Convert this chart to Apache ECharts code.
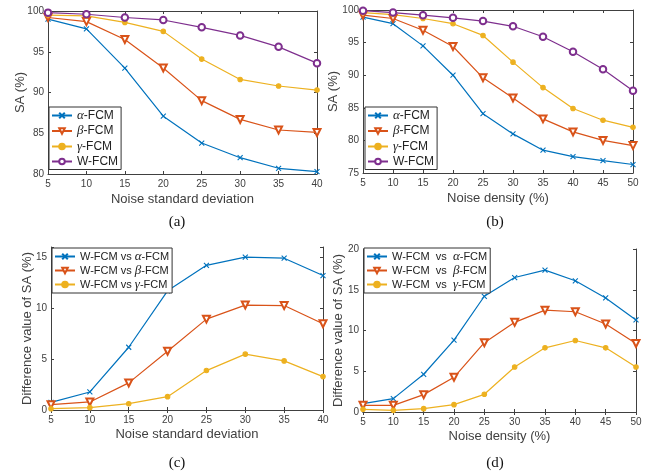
<!DOCTYPE html>
<html>
<head>
<meta charset="utf-8">
<script src="https://cdn.jsdelivr.net/npm/echarts@6/dist/echarts.min.js"></script>
<style>html,body{margin:0;padding:0;background:#fff}#c{width:649px;height:473px}</style>
</head>
<body>
<div id="c"></div>
<script>
// ---- data ----
const xStd = [5, 10, 15, 20, 25, 30, 35, 40];
const xDen = [5, 10, 15, 20, 25, 30, 35, 40, 45, 50];

const aAlpha = [99.0, 97.8, 93.0, 87.1, 83.8, 82.0, 80.7, 80.3];
const aBeta  = [99.2, 98.7, 96.5, 93.0, 89.0, 86.7, 85.4, 85.1];
const aGamma = [99.5, 99.4, 98.6, 97.5, 94.1, 91.6, 90.8, 90.3];
const aW     = [99.8, 99.6, 99.2, 98.9, 98.0, 97.0, 95.6, 93.6];

const bAlpha = [98.9, 97.9, 94.5, 90.0, 84.1, 81.0, 78.5, 77.5, 76.9, 76.3];
const bBeta  = [99.2, 98.7, 96.9, 94.4, 89.6, 86.5, 83.3, 81.3, 80.0, 79.2];
const bGamma = [99.6, 99.3, 98.7, 97.9, 96.1, 92.0, 88.1, 84.9, 83.1, 82.0];
const bW     = [99.9, 99.6, 99.2, 98.8, 98.3, 97.5, 95.9, 93.6, 90.9, 87.6];

const cAlpha = [0.75, 1.77, 6.16, 11.7, 14.2, 15.0, 14.9, 13.2];
const cBeta  = [0.52, 0.79, 2.66, 5.77, 8.92, 10.3, 10.25, 8.46];
const cGamma = [0.13, 0.23, 0.62, 1.31, 3.87, 5.48, 4.82, 3.28];

const dAlpha = [1.02, 1.64, 4.63, 8.81, 14.2, 16.5, 17.4, 16.1, 14.0, 11.3];
const dBeta  = [0.82, 0.82, 2.13, 4.26, 8.5, 11.0, 12.5, 12.3, 10.8, 8.4];
const dGamma = [0.33, 0.2, 0.41, 0.9, 2.17, 5.53, 7.87, 8.77, 7.87, 5.53];

const namesAB = ['α-FCM', 'β-FCM', 'γ-FCM', 'W-FCM'];
const namesC = ['W-FCM vs α-FCM', 'W-FCM vs β-FCM', 'W-FCM vs γ-FCM'];
const namesD = ['W-FCM  vs  α-FCM', 'W-FCM  vs  β-FCM', 'W-FCM  vs  γ-FCM'];

const xTitleStd = 'Noise standard deviation';
const xTitleDen = 'Noise density (%)';
const yTitleSA = 'SA (%)';
const yTitleDiff = 'Difference value of SA (%)';
const panelLabels = ['(a)', '(b)', '(c)', '(d)'];

// ---- styling ----
const colors = ['#0072BD', '#D95319', '#EDB120', '#7E2F8E'];
const crossPath = 'path://M0,0L10,10M10,0L0,10';
const symbols = [
  {symbol: crossPath, size: 5, rotate: 0},
  {symbol: 'emptyTriangle', size: 7, rotate: 180},
  {symbol: 'circle', size: 4.5, rotate: 0},
  {symbol: 'emptyCircle', size: 6.5, rotate: 0}
];
const FONT = 'Liberation Sans, Arial, sans-serif';
const AX = '#404040';

const grids = [
  {left: 48, top: 11, width: 269, height: 163},
  {left: 363, top: 10, width: 270, height: 163},
  {left: 51, top: 247, width: 272, height: 163},
  {left: 363, top: 249, width: 273, height: 163}
];

function pairs(xs, ys) { return xs.map((x, i) => [x, ys[i]]); }

const xAxes = [], yAxes = [], series = [], legends = [];
const axisCfg = [
  {xmin: 5, xmax: 40, ymin: 80, ymax: 100, title: xTitleStd, ytitle: yTitleSA, xgap: 19, ygap: 21},
  {xmin: 5, xmax: 50, ymin: 75, ymax: 100, title: xTitleDen, ytitle: yTitleSA, xgap: 19, ygap: 23},
  {xmin: 5, xmax: 40, ymin: 0, ymax: 16, title: xTitleStd, ytitle: yTitleDiff, xgap: 18, ygap: 17.5},
  {xmin: 5, xmax: 50, ymin: 0, ymax: 20, title: xTitleDen, ytitle: yTitleDiff, xgap: 18, ygap: 18.5}
];

axisCfg.forEach((c, g) => {
  const common = {
    gridIndex: g, type: 'value', interval: 5,
    axisLine: {show: true, lineStyle: {color: AX, width: 1}},
    axisTick: {show: true, inside: true, length: 3, lineStyle: {color: AX}},
    splitLine: {show: false}
  };
  xAxes.push(Object.assign({}, common, {
    position: 'bottom', min: c.xmin, max: c.xmax,
    axisLabel: {color: AX, fontSize: 10, fontFamily: FONT, margin: 5},
    name: c.title, nameLocation: 'middle', nameGap: c.xgap, nameMoveOverlap: false,
    nameTextStyle: {color: AX, fontSize: 13, fontFamily: FONT}
  }));
  xAxes.push(Object.assign({}, common, {
    position: 'top', min: c.xmin, max: c.xmax, axisLabel: {show: false}
  }));
  yAxes.push(Object.assign({}, common, {
    position: 'left', min: c.ymin, max: c.ymax,
    axisLabel: {color: AX, fontSize: 10, fontFamily: FONT, margin: 4,
      formatter: v => (v % 5 === 0 ? String(v) : '')},
    name: c.ytitle, nameLocation: 'middle', nameGap: c.ygap, nameMoveOverlap: false,
    nameTextStyle: {color: AX, fontSize: 13, fontFamily: FONT}
  }));
  yAxes.push(Object.assign({}, common, {
    position: 'right', min: c.ymin, max: c.ymax, axisLabel: {show: false}
  }));
});

function addSeries(g, xs, datasets, names) {
  datasets.forEach((ys, i) => {
    const s = symbols[i];
    series.push({
      type: 'line', name: names[i], xAxisIndex: g * 2, yAxisIndex: g * 2,
      data: pairs(xs, ys),
      symbol: s.symbol, symbolSize: s.size, symbolRotate: s.rotate,
      showAllSymbol: true,
      lineStyle: {color: colors[i], width: 1.2},
      itemStyle: {color: colors[i], borderColor: colors[i], borderWidth: 1.1},
      emphasis: {disabled: true},
      animation: false
    });
  });
}
addSeries(0, xStd, [aAlpha, aBeta, aGamma, aW], namesAB);
addSeries(1, xDen, [bAlpha, bBeta, bGamma, bW], namesAB);
addSeries(2, xStd, [cAlpha, cBeta, cGamma], namesC);
addSeries(3, xDen, [dAlpha, dBeta, dGamma], namesD);

const richCfg = {
  i: {fontStyle: 'italic', fontFamily: 'Liberation Serif, Times New Roman, serif', fontSize: 13, color: '#222'}
};
function legendFmt(name) { return name.replace(/[αβγ]/, m => '{i|' + m + '}'); }

const legendPos = [
  {left: 49, top: 107, data: namesAB, fs: 12, iw: 20, gap: 2.5},
  {left: 365, top: 107, data: namesAB, fs: 12, iw: 20, gap: 2.5},
  {left: 52, top: 248, data: namesC, fs: 11, iw: 20, gap: 1},
  {left: 364, top: 248, data: namesD, fs: 11, iw: 20, gap: 1}
];
legendPos.forEach(l => {
  legends.push({
    orient: 'vertical', left: l.left, top: l.top, data: l.data,
    itemWidth: l.iw, itemHeight: 7, itemGap: l.gap,
    padding: [2, 3, 2, 2],
    borderColor: '#333', borderWidth: 1, backgroundColor: '#fff',
    selectedMode: false,
    formatter: legendFmt,
    textStyle: {fontSize: l.fs, fontFamily: FONT, color: '#222', rich: richCfg}
  });
});

const labelPos = [[177, 222], [495, 222], [177, 463], [495, 463]];
const graphics = panelLabels.map((t, i) => ({
  type: 'text', x: labelPos[i][0], y: labelPos[i][1],
  style: {text: t, fill: '#111', font: '15px "Liberation Serif", serif', align: 'center', verticalAlign: 'middle'}
}));

const chart = echarts.init(document.getElementById('c'), null, {renderer: 'canvas'});
chart.setOption({
  animation: false,
  backgroundColor: '#fff',
  color: colors,
  grid: grids,
  xAxis: xAxes,
  yAxis: yAxes,
  legend: legends,
  series: series,
  graphic: graphics
});
</script>
</body>
</html>
